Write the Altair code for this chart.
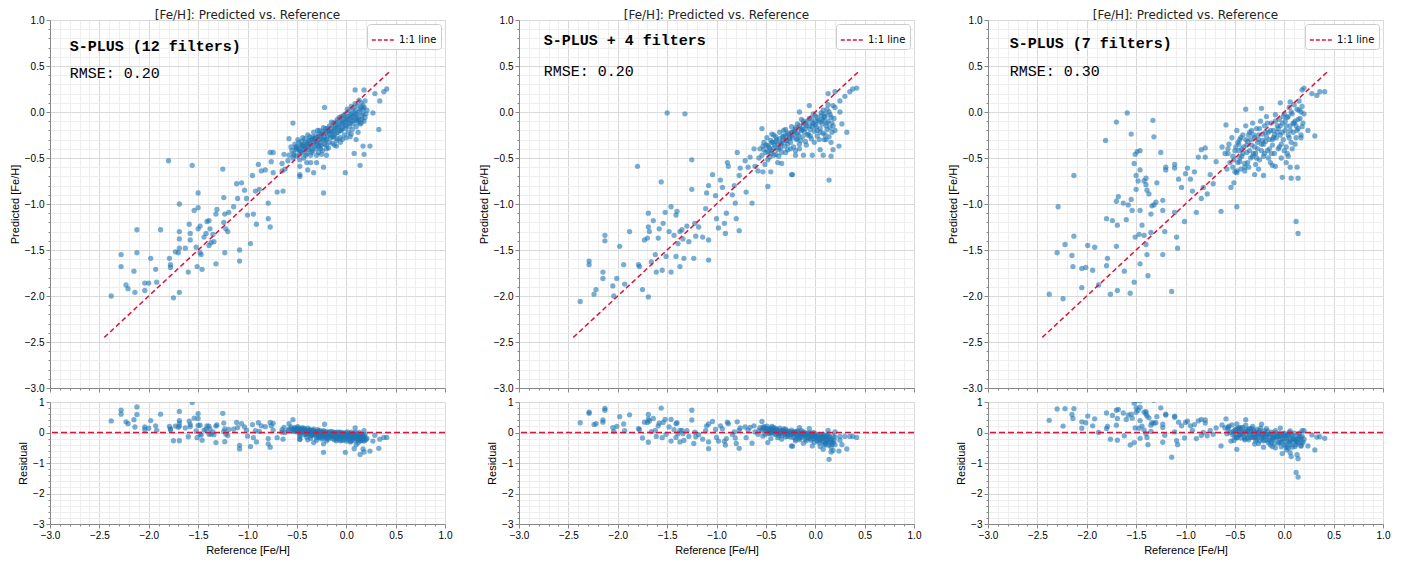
import altair as alt
import pandas as pd

TITLE = "[Fe/H]: Predicted vs. Reference"
panel_names = ["S-PLUS (12 filters)", "S-PLUS + 4 filters", "S-PLUS (7 filters)"]
rmse_texts = ["RMSE: 0.20", "RMSE: 0.20", "RMSE: 0.30"]
one_to_one = [-2.45, 0.45]

# ---- panel 1: (reference, predicted) ----
p1_sparse = [
    (-2.38, -2.00), (-2.28, -1.55), (-2.28, -1.68), (-2.23, -1.88), (-2.21, -1.92), (-2.15, -1.73),
    (-2.14, -1.96), (-2.12, -1.28), (-2.12, -1.53), (-2.04, -1.86), (-2.00, -1.86), (-2.04, -1.94),
    (-1.98, -1.59), (-1.93, -1.71), (-1.92, -1.85), (-1.88, -1.28), (-1.80, -0.53), (-1.79, -1.59),
    (-1.78, -1.69), (-1.78, -1.66), (-1.75, -2.02), (-1.69, -1.96), (-1.69, -1.00), (-1.69, -1.30),
    (-1.69, -1.38), (-1.69, -1.48), (-1.70, -1.53), (-1.73, -1.52), (-1.63, -1.48), (-1.60, -1.74),
    (-1.59, -1.22), (-1.58, -1.32), (-1.58, -1.39), (-1.56, -0.58), (-1.54, -1.07), (-1.52, -1.47),
    (-1.50, -0.88), (-1.50, -1.04), (-1.50, -1.27), (-1.48, -1.24), (-1.51, -1.68), (-1.46, -1.71),
    (-1.47, -1.55), (-1.48, -1.53), (-1.44, -1.36), (-1.42, -1.32), (-1.41, -1.19), (-1.39, -1.18),
    (-1.38, -1.27), (-1.37, -1.42), (-1.34, -1.41), (-1.39, -1.45), (-1.35, -1.33), (-1.32, -1.65),
    (-1.31, -1.06), (-1.32, -1.11), (-1.25, -0.62), (-1.24, -0.93), (-1.23, -1.11), (-1.24, -1.20),
    (-1.22, -1.27), (-1.23, -1.53), (-1.20, -1.30), (-1.19, -1.09), (-1.14, -1.03), (-1.11, -0.78),
    (-1.10, -0.94), (-1.08, -1.50), (-1.08, -1.62), (-1.06, -0.77), (-1.03, -0.85), (-1.01, -0.94),
    (-1.00, -1.12), (-0.97, -1.43), (-0.95, -0.69), (-0.94, -1.11), (-0.91, -1.22), (-0.92, -0.86),
    (-0.88, -0.84), (-0.89, -0.57), (-0.86, -0.64), (-0.82, -0.63), (-0.79, -0.99), (-0.79, -1.16),
    (-0.77, -1.25), (-0.77, -0.44), (-0.74, -0.44), (-0.76, -0.54), (-0.74, -0.66), (-0.70, -0.87),
    (-0.64, -0.86), (-0.65, -0.56), (-0.65, -0.64), (-0.62, -0.62), (-0.63, -0.46), (-0.59, -0.53),
    (-0.58, -0.29), (-0.54, -0.12), (-0.53, -0.47), (-0.51, -0.40), (-0.47, -0.59), (-0.47, -0.70),
    (-0.47, -0.68), (-0.40, -0.55), (-0.39, -0.63), (-0.33, -0.66), (-0.30, -0.55), (-0.23, -0.60),
    (-0.23, -0.88), (-0.25, -0.46), (-0.27, -0.37), (-0.20, -0.47), (-0.10, -0.37), (-0.01, -0.66),
    (0.08, -0.45), (0.14, -0.58), (0.17, -0.37), (0.18, -0.46), (0.24, -0.37), (0.33, -0.19),
    (0.27, -0.01), (0.34, 0.12), (0.29, 0.20), (0.38, 0.22), (0.41, 0.25), (0.09, 0.24),
    (0.18, 0.24), (-0.22, 0.05),
]
p1_cluster = [
    (-0.55, -0.42), (-0.52, -0.35), (-0.50, -0.48), (-0.49, -0.30), (-0.48, -0.40), (-0.47, -0.52),
    (-0.46, -0.36), (-0.45, -0.44), (-0.44, -0.28), (-0.43, -0.50), (-0.42, -0.38), (-0.41, -0.33),
    (-0.40, -0.45), (-0.39, -0.25), (-0.38, -0.41), (-0.37, -0.35), (-0.36, -0.55), (-0.35, -0.30),
    (-0.34, -0.42), (-0.33, -0.22), (-0.32, -0.37), (-0.31, -0.32), (-0.30, -0.47), (-0.29, -0.27),
    (-0.28, -0.38), (-0.27, -0.20), (-0.26, -0.33), (-0.25, -0.29), (-0.24, -0.42), (-0.23, -0.24),
    (-0.22, -0.35), (-0.21, -0.18), (-0.20, -0.30), (-0.19, -0.26), (-0.18, -0.39), (-0.17, -0.15),
    (-0.16, -0.28), (-0.15, -0.22), (-0.14, -0.34), (-0.13, -0.12), (-0.12, -0.25), (-0.11, -0.19),
    (-0.10, -0.31), (-0.09, -0.08), (-0.08, -0.22), (-0.07, -0.16), (-0.06, -0.28), (-0.05, -0.05),
    (-0.04, -0.18), (-0.03, -0.12), (-0.02, -0.25), (-0.01, -0.02), (0.00, -0.15), (0.01, -0.09),
    (0.02, -0.22), (0.03, 0.01), (0.04, -0.12), (0.05, -0.06), (0.06, -0.19), (0.07, 0.04),
    (0.08, -0.09), (0.09, -0.03), (0.10, -0.16), (0.11, 0.07), (0.12, -0.06), (0.13, 0.00),
    (0.14, -0.13), (0.15, 0.10), (0.16, -0.04), (0.17, 0.03), (0.18, -0.10), (0.19, 0.12),
    (0.20, -0.02), (-0.53, -0.45), (-0.51, -0.38), (-0.48, -0.33), (-0.46, -0.43), (-0.44, -0.37),
    (-0.42, -0.29), (-0.40, -0.36), (-0.38, -0.31), (-0.36, -0.40), (-0.34, -0.27), (-0.32, -0.29),
    (-0.30, -0.35), (-0.28, -0.24), (-0.26, -0.40), (-0.24, -0.21), (-0.22, -0.27), (-0.20, -0.36),
    (-0.18, -0.20), (-0.16, -0.21), (-0.14, -0.27), (-0.12, -0.17), (-0.10, -0.23), (-0.08, -0.14),
    (-0.06, -0.20), (-0.04, -0.10), (-0.02, -0.15), (0.00, -0.07), (0.02, -0.12), (0.04, -0.04),
    (0.06, -0.10), (0.08, -0.01), (0.10, -0.07), (0.12, -0.11), (0.14, 0.03), (0.16, -0.08),
    (0.18, 0.05), (-0.58, -0.47), (-0.56, -0.38), (-0.54, -0.50), (-0.50, -0.41), (-0.47, -0.46),
    (-0.45, -0.32), (-0.43, -0.41), (-0.41, -0.47), (-0.39, -0.34), (-0.37, -0.27), (-0.35, -0.44),
    (-0.33, -0.32), (-0.31, -0.40), (-0.29, -0.20), (-0.27, -0.30), (-0.25, -0.36), (-0.23, -0.17),
    (-0.21, -0.31), (-0.19, -0.21), (-0.17, -0.33), (-0.15, -0.11), (-0.13, -0.27), (-0.11, -0.14),
    (-0.09, -0.29), (-0.07, -0.06), (-0.05, -0.20), (-0.03, -0.04), (-0.01, -0.18), (0.01, 0.03),
    (0.03, -0.16), (0.05, 0.06), (0.07, -0.13), (0.09, 0.09), (0.11, -0.09), (0.13, 0.13),
    (0.15, -0.12), (0.17, 0.07), (0.19, -0.06), (0.21, 0.02), (0.05, -0.24), (0.10, -0.30),
    (0.12, -0.22), (-0.06, -0.33), (0.00, -0.28),
    (-0.50, -0.38), (-0.47, -0.42), (-0.45, -0.37), (-0.43, -0.35), (-0.41, -0.40), (-0.39, -0.37),
    (-0.37, -0.31), (-0.35, -0.36), (-0.33, -0.29), (-0.31, -0.27), (-0.29, -0.33), (-0.27, -0.26),
    (-0.25, -0.24), (-0.23, -0.30), (-0.21, -0.22), (-0.19, -0.18), (-0.17, -0.24), (-0.15, -0.17),
    (-0.13, -0.21), (-0.11, -0.11), (-0.09, -0.17), (-0.07, -0.10), (-0.05, -0.13), (-0.03, -0.08),
    (-0.01, -0.11), (0.01, -0.05), (0.03, -0.08), (0.05, -0.02), (0.07, -0.05), (0.09, 0.02),
    (0.11, -0.02), (0.13, -0.08), (0.15, 0.05), (0.17, -0.02), (-0.36, -0.47), (-0.28, -0.44),
    (-0.20, -0.40), (-0.12, -0.36), (-0.04, -0.30), (0.04, -0.27),
]

# ---- panel 2 ----
p2_sparse = [
    (-2.38, -2.06), (-2.29, -1.62), (-2.29, -1.66), (-2.24, -1.98), (-2.22, -1.93), (-2.15, -1.74),
    (-2.15, -1.81), (-2.13, -1.34), (-2.13, -1.40), (-2.05, -1.89), (-2.04, -2.00), (-2.01, -1.81),
    (-1.98, -1.46), (-1.94, -1.66), (-1.93, -1.87), (-1.88, -1.30), (-1.80, -0.59), (-1.79, -1.66),
    (-1.78, -1.68), (-1.75, -1.93), (-1.73, -1.39), (-1.69, -1.10), (-1.69, -1.25), (-1.69, -2.01),
    (-1.70, -1.37), (-1.68, -1.30), (-1.66, -1.63), (-1.64, -1.18), (-1.62, -1.55), (-1.59, -1.37),
    (-1.58, -1.27), (-1.61, -1.74), (-1.56, -0.76), (-1.54, -1.21), (-1.55, -1.72), (-1.52, -1.09),
    (-1.51, -1.57), (-1.50, -0.01), (-1.48, -1.30), (-1.46, -1.03), (-1.46, -1.74), (-1.43, -1.34),
    (-1.41, -1.57), (-1.41, -1.12), (-1.40, -1.08), (-1.39, -1.43), (-1.37, -1.30), (-1.34, -1.38),
    (-1.37, -1.68), (-1.35, -1.28), (-1.33, -1.59), (-1.32, -0.02), (-1.30, -1.24), (-1.28, -1.41),
    (-1.25, -0.52), (-1.25, -0.84), (-1.23, -1.59), (-1.22, -1.21), (-1.18, -1.25), (-1.21, -1.35),
    (-1.14, -1.36), (-1.11, -1.05), (-1.10, -0.88), (-1.08, -1.61), (-1.08, -0.80), (-1.08, -1.39),
    (-1.04, -0.68), (-1.01, -0.91), (-1.00, -1.16), (-0.98, -1.26), (-0.96, -0.74), (-0.94, -0.82),
    (-0.92, -1.21), (-0.91, -1.32), (-0.90, -1.10), (-0.89, -0.55), (-0.88, -0.59), (-0.84, -0.90),
    (-0.82, -0.80), (-0.81, -0.99), (-0.80, -1.16), (-0.79, -0.44), (-0.77, -1.29), (-0.77, -0.69),
    (-0.76, -0.61), (-0.71, -0.53), (-0.70, -0.87), (-0.64, -0.99), (-0.68, -0.60), (-0.66, -0.49),
    (-0.62, -0.40), (-0.61, -0.59), (-0.58, -0.64), (-0.54, -0.18), (-0.53, -0.65), (-0.51, -0.57),
    (-0.48, -0.81), (-0.45, -0.65), (-0.38, -0.55), (-0.34, -0.56), (-0.24, -0.68), (-0.23, -0.68),
    (-0.20, -0.47), (-0.12, -0.47), (-0.03, -0.47), (0.05, -0.41), (0.08, -0.47), (0.14, -0.74),
    (0.16, -0.48), (0.18, -0.41), (0.24, -0.37), (0.27, -0.13), (0.32, -0.22), (0.25, 0.00),
    (0.25, 0.12), (0.30, 0.17), (0.35, 0.22), (0.38, 0.25), (0.42, 0.26), (0.13, 0.20),
    (0.20, 0.22), (-0.16, 0.00), (-0.06, 0.07),
]
p2_cluster = [
    (-0.56, -0.40), (-0.54, -0.47), (-0.52, -0.33), (-0.50, -0.44), (-0.49, -0.28), (-0.47, -0.38),
    (-0.46, -0.49), (-0.45, -0.31), (-0.44, -0.42), (-0.42, -0.25), (-0.41, -0.36), (-0.40, -0.46),
    (-0.39, -0.30), (-0.37, -0.39), (-0.36, -0.22), (-0.35, -0.34), (-0.34, -0.44), (-0.33, -0.27),
    (-0.31, -0.37), (-0.30, -0.19), (-0.29, -0.31), (-0.28, -0.41), (-0.27, -0.24), (-0.25, -0.33),
    (-0.24, -0.16), (-0.23, -0.28), (-0.22, -0.38), (-0.21, -0.21), (-0.19, -0.30), (-0.18, -0.13),
    (-0.17, -0.25), (-0.16, -0.35), (-0.15, -0.18), (-0.13, -0.27), (-0.12, -0.10), (-0.11, -0.22),
    (-0.10, -0.32), (-0.09, -0.15), (-0.07, -0.24), (-0.06, -0.07), (-0.05, -0.19), (-0.04, -0.29),
    (-0.03, -0.12), (-0.01, -0.21), (0.00, -0.04), (0.01, -0.16), (0.02, -0.26), (0.03, -0.09),
    (0.05, -0.18), (0.06, -0.01), (0.07, -0.13), (0.08, -0.23), (0.09, -0.06), (0.11, -0.15),
    (0.12, 0.03), (0.13, -0.10), (0.14, -0.27), (0.15, -0.03), (0.17, -0.12), (0.18, 0.07),
    (0.19, -0.07), (0.20, -0.20), (-0.57, -0.50), (-0.53, -0.37), (-0.48, -0.43), (-0.43, -0.33),
    (-0.38, -0.41), (-0.33, -0.31), (-0.28, -0.35), (-0.23, -0.22), (-0.18, -0.29), (-0.13, -0.19),
    (-0.08, -0.25), (-0.03, -0.16), (0.02, -0.20), (0.07, -0.08), (0.12, -0.19), (0.16, -0.33),
    (-0.50, -0.36), (-0.45, -0.45), (-0.40, -0.27), (-0.35, -0.39), (-0.30, -0.26), (-0.25, -0.40),
    (-0.20, -0.17), (-0.15, -0.31), (-0.10, -0.12), (-0.05, -0.26), (0.00, -0.10), (0.05, -0.22),
    (0.10, -0.02), (0.15, -0.17), (0.20, 0.05), (0.04, -0.30), (-0.20, -0.42), (0.10, -0.25),
    (-0.44, -0.24), (-0.32, -0.20), (-0.26, -0.28), (-0.14, -0.08), (-0.02, -0.02), (0.08, 0.02),
    (0.11, -0.30), (0.17, -0.22), (-0.48, -0.52), (-0.37, -0.48), (-0.09, -0.36), (0.13, 0.08),
    (-0.52, -0.41), (-0.48, -0.36), (-0.46, -0.40), (-0.44, -0.33), (-0.42, -0.39), (-0.40, -0.32),
    (-0.38, -0.35), (-0.36, -0.29), (-0.34, -0.34), (-0.32, -0.26), (-0.30, -0.31), (-0.28, -0.23),
    (-0.26, -0.29), (-0.24, -0.22), (-0.22, -0.25), (-0.20, -0.19), (-0.18, -0.23), (-0.16, -0.15),
    (-0.14, -0.20), (-0.12, -0.13), (-0.10, -0.18), (-0.08, -0.10), (-0.06, -0.15), (-0.04, -0.07),
    (-0.02, -0.12), (0.00, -0.14), (0.02, -0.06), (0.04, -0.11), (0.06, -0.04), (0.08, -0.10),
    (0.10, -0.05), (0.12, -0.12), (0.14, 0.00), (0.16, -0.06), (-0.30, -0.44), (-0.16, -0.40),
    (-0.01, -0.33), (0.09, -0.30), (0.18, -0.15), (-0.42, -0.47),
]

# ---- panel 3 ----
p3_sparse = [
    (-2.38, -1.98), (-2.29, -1.03), (-2.30, -1.53), (-2.24, -2.03), (-2.22, -1.44), (-2.15, -1.56),
    (-2.14, -1.68), (-2.13, -1.35), (-2.13, -0.69), (-2.05, -1.91), (-2.05, -1.70), (-2.01, -1.69),
    (-1.99, -1.45), (-1.92, -1.47), (-1.94, -1.72), (-1.88, -1.88), (-1.81, -0.31), (-1.80, -1.16),
    (-1.79, -1.59), (-1.80, -1.67), (-1.76, -1.98), (-1.74, -1.18), (-1.70, -0.11), (-1.70, -0.97),
    (-1.70, -1.46), (-1.69, -1.94), (-1.68, -0.92), (-1.69, -1.23), (-1.63, -0.99), (-1.62, -1.73),
    (-1.60, -1.17), (-1.59, -0.01), (-1.58, -1.01), (-1.56, -1.97), (-1.55, -0.24), (-1.55, -0.95),
    (-1.54, -1.07), (-1.52, -1.85), (-1.52, -0.56), (-1.51, -0.46), (-1.51, -1.36), (-1.50, -0.84),
    (-1.50, -0.69), (-1.49, -0.43), (-1.48, -0.75), (-1.47, -1.33), (-1.46, -0.42), (-1.46, -0.63),
    (-1.46, -1.65), (-1.46, -1.07), (-1.44, -1.23), (-1.42, -0.75), (-1.42, -1.34), (-1.40, -0.72),
    (-1.40, -1.44), (-1.40, -0.79), (-1.39, -0.85), (-1.39, -1.55), (-1.38, -1.78), (-1.37, -0.89),
    (-1.35, -1.11), (-1.35, -1.31), (-1.33, -0.09), (-1.32, -0.27), (-1.34, -1.02), (-1.32, -1.01),
    (-1.30, -0.98), (-1.29, -0.77), (-1.25, -0.44), (-1.23, -0.96), (-1.23, -1.55), (-1.23, -1.07),
    (-1.21, -1.30), (-1.20, -0.60), (-1.20, -0.63), (-1.14, -1.95), (-1.11, -1.09), (-1.11, -0.57),
    (-1.11, -0.61), (-1.09, -1.36), (-1.08, -1.48), (-1.07, -0.73), (-1.04, -0.82), (-1.01, -1.19),
    (-1.00, -0.67), (-0.98, -0.61), (-0.95, -0.73), (-0.93, -0.86), (-0.91, -0.65), (-0.89, -1.09),
    (-0.87, -0.49), (-0.84, -0.41), (-0.84, -0.94), (-0.82, -0.82), (-0.80, -0.49), (-0.80, -0.39),
    (-0.78, -0.89), (-0.75, -0.68), (-0.72, -0.78), (-0.69, -0.54), (-0.64, -1.08), (-0.63, -0.38),
    (-0.59, -0.14), (-0.57, -0.45), (-0.54, -0.82), (-0.51, -0.77), (-0.48, -1.03), (-0.48, -0.64),
    (-0.45, -0.54), (-0.40, -0.60), (-0.39, 0.03), (-0.30, -0.68), (-0.21, -0.69), (-0.09, -0.59),
    (-0.02, -0.71), (0.04, -0.48), (0.07, -0.72), (0.13, -0.60), (0.14, -0.72), (0.12, -1.19),
    (0.14, -1.32), (0.17, -0.28), (0.24, -0.20), (0.31, -0.26), (0.18, 0.24), (0.28, 0.20),
    (0.33, 0.18), (0.36, 0.22), (0.41, 0.22), (0.20, 0.26), (0.06, 0.11), (-0.04, 0.10),
    (-0.23, 0.04),
]
p3_cluster = [
    (-0.60, -0.45), (-0.58, -0.62), (-0.56, -0.35), (-0.55, -0.55), (-0.53, -0.28), (-0.52, -0.48),
    (-0.50, -0.65), (-0.49, -0.38), (-0.48, -0.20), (-0.47, -0.55), (-0.46, -0.42), (-0.45, -0.30),
    (-0.44, -0.62), (-0.43, -0.48), (-0.42, -0.25), (-0.41, -0.38), (-0.40, -0.56), (-0.39, -0.15),
    (-0.38, -0.44), (-0.37, -0.32), (-0.36, -0.60), (-0.35, -0.22), (-0.34, -0.50), (-0.33, -0.36),
    (-0.32, -0.12), (-0.31, -0.45), (-0.30, -0.28), (-0.29, -0.57), (-0.28, -0.18), (-0.27, -0.40),
    (-0.26, -0.30), (-0.25, -0.52), (-0.24, -0.10), (-0.23, -0.35), (-0.22, -0.24), (-0.21, -0.48),
    (-0.20, -0.15), (-0.19, -0.32), (-0.18, -0.05), (-0.17, -0.42), (-0.16, -0.22), (-0.15, -0.30),
    (-0.14, -0.55), (-0.13, -0.12), (-0.12, -0.36), (-0.11, -0.20), (-0.10, -0.45), (-0.09, -0.03),
    (-0.08, -0.28), (-0.07, -0.15), (-0.06, -0.40), (-0.05, -0.08), (-0.04, -0.25), (-0.03, -0.50),
    (-0.02, -0.12), (-0.01, -0.30), (0.00, -0.02), (0.01, -0.20), (0.02, -0.38), (0.03, -0.06),
    (0.04, -0.25), (0.05, 0.05), (0.06, -0.15), (0.07, -0.33), (0.08, -0.02), (0.09, -0.22),
    (0.10, 0.08), (0.11, -0.10), (0.12, -0.28), (0.13, 0.03), (0.14, -0.18), (0.15, 0.12),
    (0.16, -0.07), (0.17, -0.25), (0.18, 0.06), (0.19, -0.12), (0.20, -0.02), (-0.57, -0.40),
    (-0.51, -0.52), (-0.47, -0.33), (-0.43, -0.40), (-0.39, -0.30), (-0.35, -0.42), (-0.31, -0.25),
    (-0.27, -0.33), (-0.23, -0.42), (-0.19, -0.22), (-0.15, -0.40), (-0.11, -0.28), (-0.07, -0.22),
    (-0.03, -0.35), (0.01, -0.10), (0.05, -0.28), (0.09, -0.12), (0.13, -0.20), (0.17, 0.00),
    (-0.45, -0.50), (-0.37, -0.55), (-0.29, -0.45), (-0.21, -0.35), (-0.13, -0.45), (-0.05, -0.38),
    (0.03, -0.45), (0.11, -0.35), (-0.33, -0.20), (-0.25, -0.18), (-0.17, -0.12), (-0.09, -0.10),
    (-0.01, -0.05), (0.07, 0.00), (0.15, 0.02), (-0.52, -0.60), (-0.48, -0.66), (-0.40, -0.64),
    (-0.26, -0.62), (-0.12, -0.58), (0.02, -0.55), (0.06, -0.60),
    (-0.50, -0.42), (-0.46, -0.35), (-0.42, -0.45), (-0.38, -0.36), (-0.34, -0.30), (-0.30, -0.38),
    (-0.26, -0.25), (-0.22, -0.31), (-0.18, -0.27), (-0.14, -0.20), (-0.10, -0.25), (-0.06, -0.18),
    (-0.02, -0.22), (0.02, -0.15), (0.06, -0.20), (0.10, -0.12), (0.14, -0.08), (0.18, -0.16),
    (-0.44, -0.28), (-0.36, -0.25), (-0.28, -0.50), (-0.20, -0.45), (-0.12, -0.30), (-0.04, -0.15),
    (0.04, -0.05), (0.12, -0.15), (-0.32, -0.48), (-0.16, -0.50), (0.00, -0.42), (0.08, -0.40),
]

panels_data = [p1_sparse + p1_cluster, p2_sparse + p2_cluster, p3_sparse + p3_cluster]
name_pos = [(-2.80, 0.72), (-2.75, 0.78), (-2.78, 0.75)]
rmse_pos = [(-2.80, 0.42), (-2.75, 0.45), (-2.78, 0.45)]

POINT = "#1f77b4"
RED = "#dc143c"
MAJOR_X = "abs(round(datum.value * 10)) % 5 == 0"
MAJOR_R = "abs(round(datum.value * 10)) % 10 == 0"
vals_01 = [round(-3 + 0.1 * i, 1) for i in range(41)]
vals_02 = [round(-3 + 0.2 * i, 1) for i in range(21)]


def grid_axis(test, values, fmt, title, labels=True):
    return alt.Axis(
        values=values,
        labelExpr=f"{test} ? format(datum.value, '{fmt}') : ''",
        labelOverlap=False,
        labelFlush=False,
        gridColor={"condition": {"test": test, "value": "#d9d9d9"}, "value": "#eeeeee"},
        tickSize={"condition": {"test": test, "value": 4}, "value": 2},
        labels=labels,
        title=title,
        titleFontWeight="normal",
    )


def sc():
    return alt.Scale(domain=[-3, 1], nice=False, zero=False)


def make_panel(i):
    df = pd.DataFrame(panels_data[i], columns=["ref", "pred"])
    df["resid"] = (df["pred"] - df["ref"]).round(3)

    ax_xt = grid_axis(MAJOR_X, vals_01, ".1f", None, labels=False)
    ax_yt = grid_axis(MAJOR_X, vals_01, ".1f", "Predicted [Fe/H]")
    ax_xb = grid_axis(MAJOR_X, vals_01, ".1f", "Reference [Fe/H]")
    ax_yb = grid_axis(MAJOR_R, vals_02, "d", "Residual")

    def XT():
        return alt.X("ref:Q", scale=sc(), axis=ax_xt)

    def YT():
        return alt.Y("pred:Q", scale=sc(), axis=ax_yt)

    pts = alt.Chart(df).mark_circle(size=28, opacity=0.6, color=POINT, clip=True).encode(x=XT(), y=YT())

    line_df = pd.DataFrame({"ref": one_to_one, "pred": one_to_one, "label": ["1:1 line"] * 2})
    line = alt.Chart(line_df).mark_line(strokeDash=[5, 3], strokeWidth=1.5).encode(
        x=XT(),
        y=YT(),
        color=alt.Color(
            "label:N",
            scale=alt.Scale(domain=["1:1 line"], range=[RED]),
            legend=alt.Legend(
                title=None, orient="top-right", symbolType="stroke", symbolDash=[4, 2],
                symbolStrokeWidth=1.5, symbolSize=500, fillColor="white", strokeColor="#cccccc",
                padding=4, cornerRadius=3, labelFontSize=10, labelFont="DejaVu Sans", offset=4,
            ),
        ),
    )
    name_df = pd.DataFrame({"ref": [name_pos[i][0]], "pred": [name_pos[i][1]], "t": [panel_names[i]]})
    name = alt.Chart(name_df).mark_text(
        align="left", baseline="middle", font="Liberation Mono", fontWeight="bold", fontSize=15, color="black"
    ).encode(x=XT(), y=YT(), text="t:N")
    rmse_df = pd.DataFrame({"ref": [rmse_pos[i][0]], "pred": [rmse_pos[i][1]], "t": [rmse_texts[i]]})
    rmse = alt.Chart(rmse_df).mark_text(
        align="left", baseline="middle", font="Liberation Mono", fontSize=15, color="black"
    ).encode(x=XT(), y=YT(), text="t:N")

    top = alt.layer(pts, line, name, rmse).properties(
        width=395, height=368,
        title=alt.TitleParams(TITLE, fontSize=12, font="DejaVu Sans", fontWeight="normal",
                              anchor="middle", offset=-7, color="#222"),
    )

    def XB():
        return alt.X("ref:Q", scale=sc(), axis=ax_xb)

    def YB():
        return alt.Y("resid:Q", scale=sc(), axis=ax_yb)

    rpts = alt.Chart(df).mark_circle(size=28, opacity=0.6, color=POINT, clip=True).encode(x=XB(), y=YB())
    zero = alt.Chart(pd.DataFrame({"resid": [0]})).mark_rule(
        color=RED, strokeDash=[6, 3], strokeWidth=1.5
    ).encode(y=YB())
    bottom = alt.layer(rpts, zero).properties(width=395, height=122)

    return alt.vconcat(top, bottom, spacing=2).resolve_scale(color="independent")


chart = alt.hconcat(*[make_panel(i) for i in range(3)], spacing=24).resolve_scale(
    color="independent"
).properties(
    padding={"left": 0, "top": 0, "right": 5, "bottom": 0}
).configure_view(
    stroke="#333333", strokeWidth=1
).configure_axis(
    domain=False,
    labelFont="DejaVu Sans", labelFontSize=10, labelColor="#333333",
    titleFont="DejaVu Sans", titleFontSize=10, titleFontWeight="normal", titleColor="#333333",
    tickColor="#333333", labelPadding=2,
).configure(background="white")

chart.save("out.html", embed_options={"renderer": "svg", "actions": False})
